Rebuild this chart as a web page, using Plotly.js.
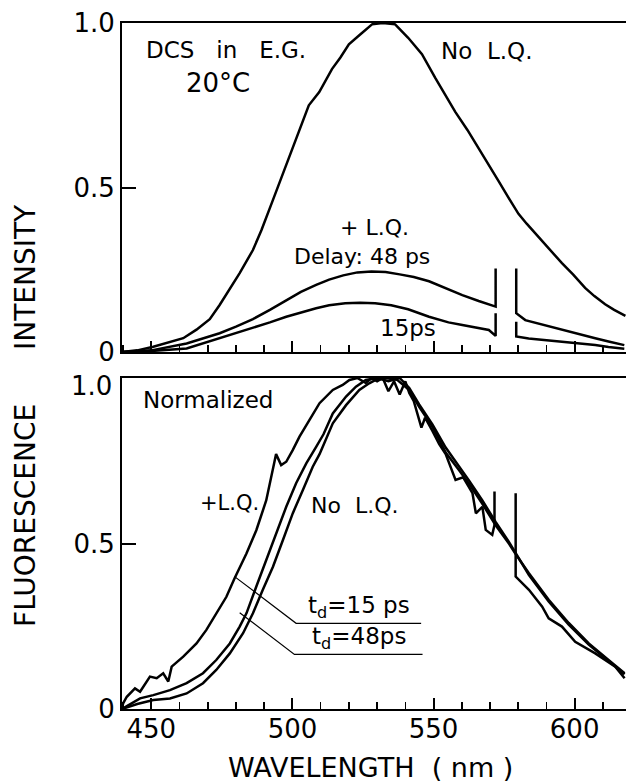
<!DOCTYPE html>
<html>
<head>
<meta charset="utf-8">
<script src="https://cdn.plot.ly/plotly-3.0.1.min.js"></script>
<style>html,body{margin:0;padding:0;background:#fff;}#chart{width:626px;height:783px;}</style>
</head>
<body>
<div id="chart"></div>
<script>
// ---------- Top panel: absolute fluorescence intensity ----------
const topNoLQ_x = [439.6, 445, 450.7, 456, 461.3, 466, 470.7, 474.2, 478, 481.3, 486, 489, 493, 497.6, 502.3, 505.8, 509.5, 514, 517, 520, 524, 528.2, 532, 536.4, 541, 545.9, 550.6, 554, 557.7, 562, 566, 569.5, 573, 576.5, 580.1, 583, 586.1, 590, 595.5, 599.5, 603.7, 607, 610.8, 614, 618];
const topNoLQ_y = [0, 0.005, 0.016, 0.028, 0.042, 0.068, 0.10, 0.143, 0.195, 0.24, 0.31, 0.37, 0.46, 0.565, 0.67, 0.75, 0.79, 0.86, 0.895, 0.935, 0.965, 0.996, 1.0, 0.996, 0.955, 0.905, 0.833, 0.785, 0.73, 0.675, 0.62, 0.57, 0.52, 0.47, 0.42, 0.39, 0.36, 0.32, 0.27, 0.235, 0.195, 0.17, 0.145, 0.128, 0.11];

const top48_x = [439.6, 450, 462.5, 474.2, 480, 486, 492, 497.8, 503, 508.4, 513, 518, 523, 528, 533, 538, 543, 548.4, 554, 560.2, 566, 572, 572, null, 579.3, 579.3, 582.5, 589, 595.5, 601, 607.3, 612, 617.6];
const top48_y = [0, 0.005, 0.026, 0.057, 0.077, 0.10, 0.128, 0.158, 0.183, 0.204, 0.22, 0.233, 0.242, 0.245, 0.243, 0.236, 0.228, 0.215, 0.195, 0.173, 0.155, 0.138, 0.254, null, 0.254, 0.118, 0.097, 0.082, 0.067, 0.055, 0.042, 0.032, 0.021];

const top15_x = [439.6, 450, 462.5, 474.2, 480, 486, 492, 497.8, 503, 508.4, 513, 518.7, 524, 529.3, 535, 541, 548.4, 555.3, 560.2, 565, 569.6, 572, 572, null, 579.3, 579.3, 583.7, 590, 595.5, 601, 607.3, 612, 617.6];
const top15_y = [0, 0.003, 0.011, 0.042, 0.056, 0.072, 0.09, 0.107, 0.12, 0.133, 0.142, 0.148, 0.15, 0.148, 0.142, 0.13, 0.107, 0.09, 0.082, 0.074, 0.067, 0.049, 0.118, null, 0.092, 0.047, 0.041, 0.036, 0.031, 0.026, 0.021, 0.015, 0.01];

// ---------- Bottom panel: normalized ----------
const bot15_x = [439.6, 440, 441.3, 444.2, 446, 449.5, 451.9, 454.2, 456, 457.2, 461.3, 466, 469.5, 473, 476.6, 479.5, 483.7, 487.2, 490.7, 493.7, 494.2, 496, 497.8, 500.1, 502.5, 506, 509.6, 514.3, 517.8, 520.2, 523, 526, 528, 530, 532, 534, 536, 538, 540, 541.4, 543, 545.7, 547, 549.6, 552, 554.3, 557.8, 560.5, 563.8, 565, 567.3, 568.5, 570.8, 571.6, 571.6, null, 579.1, 579.1, 583.8, 588.5, 590.8, 595.5, 600.2, 607.3, 614.4, 617.7];
const bot15_y = [0, 0.017, 0.037, 0.062, 0.052, 0.098, 0.093, 0.108, 0.083, 0.128, 0.158, 0.198, 0.239, 0.289, 0.339, 0.395, 0.47, 0.54, 0.63, 0.75, 0.77, 0.737, 0.747, 0.782, 0.823, 0.873, 0.924, 0.964, 0.979, 0.994, 1.0, 0.985, 1.0, 0.99, 1.0, 0.96, 0.99, 0.95, 0.99, 0.955, 0.93, 0.85, 0.88, 0.84, 0.8, 0.77, 0.692, 0.70, 0.652, 0.591, 0.611, 0.541, 0.526, 0.556, 0.657, null, 0.652, 0.40, 0.36, 0.309, 0.274, 0.249, 0.203, 0.168, 0.128, 0.093];

const bot48_x = [439.6, 446, 450.7, 456.6, 462.5, 468.3, 473, 477.8, 481.3, 483.7, 487.2, 490.7, 494.3, 497.8, 501.3, 504.9, 508.4, 511, 514.3, 519, 522.5, 526, 530, 534, 538, 541.4, 544.9, 549.6, 554.3, 559, 562.6, 567.3, 572, 576.7, 579.1, 583.8, 590.8, 597.9, 605, 612, 617.7];
const bot48_y = [0, 0.032, 0.042, 0.057, 0.078, 0.108, 0.148, 0.198, 0.249, 0.289, 0.37, 0.45, 0.53, 0.611, 0.682, 0.742, 0.792, 0.83, 0.893, 0.944, 0.974, 0.994, 1.0, 0.99, 1.0, 0.97, 0.92, 0.86, 0.79, 0.735, 0.69, 0.63, 0.565, 0.505, 0.47, 0.405, 0.325, 0.255, 0.195, 0.145, 0.105];

const botNoLQ_x = [439.6, 445, 450.7, 456.6, 462.5, 468.3, 473, 477.8, 482.5, 486, 489.5, 493.1, 496.6, 500.1, 503.7, 507.2, 509.6, 514.3, 519, 523.7, 527.2, 529.5, 533, 537, 541.4, 544.9, 549.6, 554.3, 559, 562.6, 567.3, 572, 576.7, 579.1, 583.8, 590.8, 597.9, 605, 612, 617.7];
const botNoLQ_y = [0, 0.015, 0.027, 0.032, 0.047, 0.078, 0.118, 0.168, 0.229, 0.289, 0.36, 0.43, 0.51, 0.591, 0.662, 0.732, 0.77, 0.863, 0.918, 0.964, 0.984, 0.994, 1.0, 0.995, 0.964, 0.913, 0.853, 0.775, 0.722, 0.68, 0.62, 0.555, 0.50, 0.468, 0.41, 0.33, 0.26, 0.198, 0.148, 0.108];

// tick labels
const xTicks = [450, 500, 550, 600];
const yTicks = [0, 0.5, 1];
const yTickTextTop = ['0', '0.5', '1.0'];
const yTickTextBottom = ['0', '0.5', ''];   // bottom "1.0" drawn slightly lower, as in the original
const bottomTopLabel = '1.0';

// leader lines for t_d labels (bottom panel)
const lead15_x = [479.5, 501.3, 545.6];
const lead15_y = [0.40, 0.259, 0.259];
const lead48_x = [481.3, 500.7, 546.1];
const lead48_y = [0.291, 0.165, 0.165];

const FONT = 'DejaVu Sans, Liberation Sans, sans-serif';
const lineStyle = {color: '#000', width: 2.5};

function tr(x, y, xa, ya) {
  return {x: x, y: y, xaxis: xa, yaxis: ya, type: 'scatter', mode: 'lines',
          line: lineStyle, connectgaps: false, hoverinfo: 'skip'};
}

const data = [
  tr(topNoLQ_x, topNoLQ_y, 'x2', 'y2'),
  tr(top48_x, top48_y, 'x2', 'y2'),
  tr(top15_x, top15_y, 'x2', 'y2'),
  tr(bot15_x, bot15_y, 'x', 'y'),
  tr(bot48_x, bot48_y, 'x', 'y'),
  tr(botNoLQ_x, botNoLQ_y, 'x', 'y'),
  {x: lead15_x, y: lead15_y, xaxis: 'x', yaxis: 'y', type: 'scatter', mode: 'lines', line: {color: '#000', width: 1.2}, hoverinfo: 'skip'},
  {x: lead48_x, y: lead48_y, xaxis: 'x', yaxis: 'y', type: 'scatter', mode: 'lines', line: {color: '#000', width: 1.2}, hoverinfo: 'skip'}
];

const xCommon = {
  range: [439.6, 618.2], showgrid: false, zeroline: false,
  showline: true, linewidth: 2, linecolor: '#000', mirror: true,
  ticks: 'inside', ticklen: 11, tickwidth: 2, tickcolor: '#000',
  tickvals: xTicks, ticklabelstandoff: -4,
  minor: {dtick: 10, ticks: 'inside', ticklen: 7, tickwidth: 1.6, tickcolor: '#000', showgrid: false},
  tickfont: {family: FONT, size: 26, color: '#000'}
};
const yCommon = {
  range: [0, 1], showgrid: false, zeroline: false,
  showline: true, linewidth: 2, linecolor: '#000', mirror: false,
  ticks: 'inside', ticklen: 14, tickwidth: 2, tickcolor: '#000',
  tickvals: yTicks,
  tickfont: {family: FONT, size: 26, color: '#000'}
};

function ann(text, x, y, xref, yref, size, extra) {
  return Object.assign({text: text, x: x, y: y, xref: xref, yref: yref, showarrow: false,
    xanchor: 'center', yanchor: 'middle', font: {family: FONT, size: size, color: '#000'}}, extra || {});
}
const NB = '\u00a0';

const layout = {
  width: 626, height: 783,
  margin: {l: 122, r: 0, t: 23, b: 74},
  paper_bgcolor: '#fff', plot_bgcolor: '#fff',
  showlegend: false,
  xaxis: Object.assign({}, xCommon, {anchor: 'y', domain: [0, 1]}),
  yaxis: Object.assign({}, yCommon, {anchor: 'x', domain: [0, 0.4825], ticktext: yTickTextBottom}),
  xaxis2: Object.assign({}, xCommon, {anchor: 'y2', domain: [0, 1], matches: 'x', showticklabels: false}),
  yaxis2: Object.assign({}, yCommon, {anchor: 'x2', domain: [0.5204, 1], ticktext: yTickTextTop}),
  annotations: [
    ann(bottomTopLabel, 0, 1, 'paper', 'y', 26, {xanchor: 'right', xshift: -8, yshift: -8}),
    ann('DCS' + NB + NB + NB + 'in' + NB + NB + NB + 'E.G.', 476.4, 0.918, 'x2', 'y2', 23),
    ann('20°C', 473.5, 0.818, 'x2', 'y2', 26),
    ann('No' + NB + NB + 'L.Q.', 568.6, 0.915, 'x2', 'y2', 23),
    ann('+' + NB + 'L.Q.', 529.2, 0.377, 'x2', 'y2', 22),
    ann('Delay:' + NB + '48' + NB + 'ps', 524.6, 0.289, 'x2', 'y2', 22),
    ann('15ps', 540.9, 0.073, 'x2', 'y2', 23),
    ann('Normalized', 470, 0.934, 'x', 'y', 23),
    ann('+L.Q.', 477.8, 0.622, 'x', 'y', 21),
    ann('No' + NB + NB + 'L.Q.', 522.1, 0.616, 'x', 'y', 22),
    ann('t<sub>d</sub>=15' + NB + 'ps', 523.7, 0.309, 'x', 'y', 23),
    ann('t<sub>d</sub>=48ps', 523.7, 0.214, 'x', 'y', 23),
    ann('FLUORESCENCE', -0.1925, (709 - 515) / 686, 'paper', 'paper', 28, {textangle: -90}),
    ann('INTENSITY', -0.1925, (709 - 277) / 686, 'paper', 'paper', 28, {textangle: -90}),
    ann('WAVELENGTH' + NB + NB + '(' + NB + 'nm' + NB + ')', 0.494, -0.086, 'paper', 'paper', 27)
  ]
};

Plotly.newPlot('chart', data, layout, {staticPlot: true, displayModeBar: false});
</script>
</body>
</html>
